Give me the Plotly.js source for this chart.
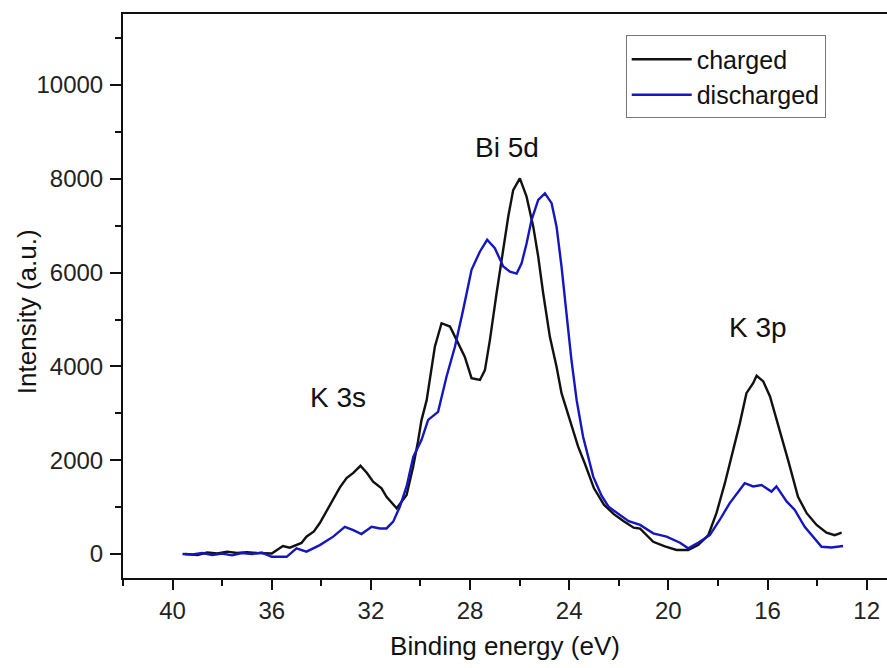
<!DOCTYPE html>
<html>
<head>
<meta charset="utf-8">
<script src="https://cdn.plot.ly/plotly-3.0.1.min.js"></script>
<style>html,body{margin:0;padding:0;background:#fff;}#chart{width:887px;height:668px;}</style>
</head>
<body>
<div id="chart"></div>
<script>
// Binding energy (eV) and intensity (a.u.)
const chargedEnergy = [39.5,39.0,38.6,38.2,37.8,37.4,37.0,36.6,36.0,35.55,35.27,34.8,34.6,34.3,34.06,33.8,33.53,33.25,32.98,32.71,32.42,32.15,31.91,31.57,31.37,31.15,30.96,30.56,30.3,30.1,29.96,29.75,29.42,29.15,28.81,28.54,28.21,27.94,27.6,27.4,27.2,26.93,26.66,26.46,26.26,25.99,25.72,25.45,25.25,25.05,24.78,24.51,24.31,23.97,23.64,23.37,23.0,22.6,22.2,21.8,21.4,21.14,20.61,20.14,19.67,19.2,18.8,18.39,18.06,17.72,17.39,17.12,16.85,16.58,16.44,16.17,15.9,15.5,15.17,14.77,14.42,14.02,13.62,13.29,13.01];
const chargedIntensity = [0,-20,30,10,50,20,40,20,10,170,135,235,370,480,660,900,1150,1420,1620,1730,1880,1720,1540,1400,1220,1080,975,1260,1850,2400,2850,3280,4420,4920,4850,4560,4200,3750,3710,3920,4560,5560,6480,7190,7760,8010,7620,6980,6340,5560,4630,3990,3430,2860,2290,1930,1400,1050,850,700,560,540,260,160,85,85,190,400,870,1510,2220,2780,3430,3640,3800,3680,3360,2640,2000,1220,870,620,455,400,455];

const dischargedEnergy = [39.6,39.2,38.8,38.4,38.0,37.6,37.2,36.8,36.4,36.0,35.4,35.0,34.6,34.06,33.52,33.05,32.71,32.38,31.97,31.63,31.37,31.1,30.83,30.56,30.29,29.96,29.69,29.29,28.95,28.61,28.28,27.94,27.6,27.31,27.0,26.66,26.39,26.12,25.92,25.72,25.52,25.25,24.98,24.71,24.51,24.31,24.11,23.91,23.7,23.44,23.03,22.7,22.4,22.0,21.6,21.14,20.61,20.07,19.53,19.2,18.8,18.33,17.93,17.53,17.19,16.92,16.58,16.24,15.84,15.64,15.23,14.9,14.5,14.16,13.82,13.42,12.95];
const dischargedIntensity = [0,-10,20,-20,10,-30,20,0,30,-60,-60,120,50,190,370,580,510,425,580,545,545,690,1010,1440,2070,2430,2860,3030,3780,4420,5200,6060,6450,6700,6520,6130,6020,5980,6200,6620,7120,7550,7690,7480,6980,6130,5130,4140,3280,2500,1650,1250,1000,850,700,620,440,370,240,120,240,400,725,1080,1330,1510,1440,1470,1330,1440,1120,940,580,370,155,140,170];

const seriesNames = ["charged", "discharged"];
const peakLabels = ["K 3s", "Bi 5d", "K 3p"];
const peakLabelEnergy = [33.33, 26.5, 16.38];
const peakLabelIntensity = [3330, 8660, 4820];
const xTickVals = [40, 36, 32, 28, 24, 20, 16, 12];
const yTickVals = [0, 2000, 4000, 6000, 8000, 10000];
const xTitle = "Binding energy (eV)";
const yTitle = "Intensity (a.u.)";

const font = "Arial, 'Liberation Sans', sans-serif";

const traces = [
  {x: chargedEnergy, y: chargedIntensity, name: seriesNames[0], type: "scatter", mode: "lines",
   line: {color: "#111111", width: 2.4}},
  {x: dischargedEnergy, y: dischargedIntensity, name: seriesNames[1], type: "scatter", mode: "lines",
   line: {color: "#1616c0", width: 2.4}}
];

const annotations = peakLabels.map((t, i) => ({
  x: peakLabelEnergy[i], y: peakLabelIntensity[i], xref: "x", yref: "y",
  text: t, showarrow: false, font: {family: font, size: 28, color: "#111"}
}));
// y-axis title, placed as a rotated annotation for exact positioning
annotations.push({
  x: -0.1257, y: 0.473, xref: "paper", yref: "paper", xanchor: "center", yanchor: "middle",
  text: yTitle, textangle: -90, showarrow: false, font: {family: font, size: 26, color: "#111"}
});

const layout = {
  width: 887, height: 668,
  margin: {l: 123, r: 0, t: 14, b: 90},
  paper_bgcolor: "#fff", plot_bgcolor: "#fff",
  showlegend: true,
  legend: {x: 0.658, y: 0.962, xanchor: "left", yanchor: "top",
           bgcolor: "rgba(255,255,255,0)", bordercolor: "#777", borderwidth: 1,
           font: {family: font, size: 25, color: "#111"}, itemwidth: 60, tracegroupgap: 0},
  xaxis: {
    range: [42.0, 11.18], autorange: false,
    tickvals: xTickVals, ticks: "outside", ticklen: 10, tickwidth: 2, tickcolor: "#111",
    minor: {dtick: 2, tick0: 0, ticks: "outside", ticklen: 6, tickwidth: 2, tickcolor: "#111"},
    showline: true, linecolor: "#111", linewidth: 2, mirror: true,
    showgrid: false, zeroline: false,
    tickfont: {family: font, size: 24, color: "#222"},
    title: {text: xTitle, font: {family: font, size: 26, color: "#111"}, standoff: 14}
  },
  yaxis: {
    range: [-512, 11514], autorange: false,
    tickvals: yTickVals, tickformat: "d", ticks: "outside", ticklen: 11, tickwidth: 2, tickcolor: "#111",
    ticklabelstandoff: 2,
    minor: {dtick: 1000, tick0: 0, ticks: "outside", ticklen: 6, tickwidth: 2, tickcolor: "#111"},
    showline: true, linecolor: "#111", linewidth: 2, mirror: false,
    showgrid: false, zeroline: false,
    tickfont: {family: font, size: 24, color: "#222"}
  },
  annotations: annotations
};

Plotly.newPlot("chart", traces, layout, {displayModeBar: false, staticPlot: true});
</script>
</body>
</html>
